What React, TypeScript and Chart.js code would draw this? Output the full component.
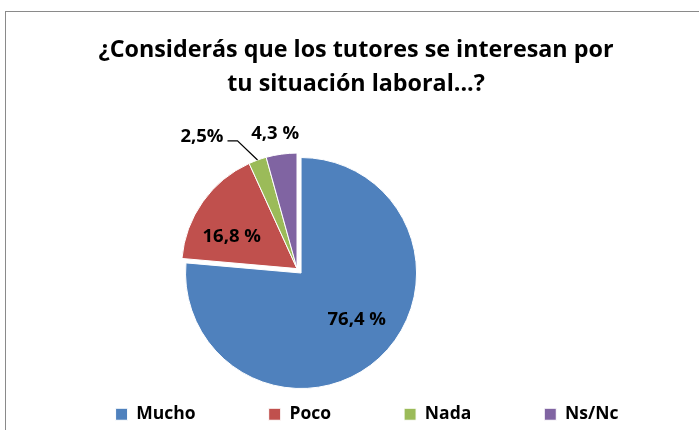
import { useEffect, useRef } from 'react';
import { Chart, registerables } from 'chart.js';

Chart.register(...registerables);

// ---- data ----
const categories = ['Mucho', 'Poco', 'Nada', 'Ns/Nc'];
const percentages = [76.4, 16.8, 2.5, 4.3];
const valueLabels = ['76,4 %', '16,8 %', '2,5%', '4,3 %'];
const titleLines = ['¿Considerás que los tutores se interesan por', 'tu situación laboral...?'];

// ---- style ----
const sliceColors = ['#4F81BD', '#C0504D', '#9BBB59', '#8064A2'];
const explode = [6, 0, 0, 0];
const labelPlacement = [
  { mode: 'inside', r: 0.63, shift: -7.5 },
  { mode: 'inside', r: 0.63, shift: -9 },
  { mode: 'leader', r: 1.22, shift: -5 },
  { mode: 'outside', r: 1.18, shift: -1.5 },
];
const FONT = "'Open Sans'";
const PIE_CX = 297;
const PIE_CY = 268.6;
const PIE_R = 115.5;
const LEGEND_SHIFT = 11;
const LABEL_SIZE = 18.5;
const TITLE_SIZE = 23.3;

const customPlugin = {
  id: 'customPie',
  afterLayout(chart: any) {
    const h = 140;
    chart.chartArea = {
      left: PIE_CX - h,
      right: PIE_CX + h,
      top: PIE_CY - h,
      bottom: PIE_CY + h,
      width: 2 * h,
      height: 2 * h,
    };
    if (chart.legend) {
      chart.legend.left += LEGEND_SHIFT;
      chart.legend.right += LEGEND_SHIFT;
    }
  },
  afterDatasetsUpdate(chart: any) {
    const meta = chart.getDatasetMeta(0);
    meta.data.forEach((arc: any, i: number) => {
      const d = explode[i] || 0;
      if (!d) return;
      const mid = (arc.startAngle + arc.endAngle) / 2;
      arc.x += Math.cos(mid) * d;
      arc.y += Math.sin(mid) * d;
    });
  },
  afterDatasetsDraw(chart: any) {
    const ctx = chart.ctx;
    const meta = chart.getDatasetMeta(0);
    ctx.save();
    ctx.font = `bold ${LABEL_SIZE}px ${FONT}`;
    ctx.fillStyle = '#000';
    ctx.strokeStyle = '#000';
    ctx.lineWidth = 1.2;
    meta.data.forEach((arc: any, i: number) => {
      const { x, y, startAngle, endAngle, outerRadius } = arc.getProps(
        ['x', 'y', 'startAngle', 'endAngle', 'outerRadius'],
        true
      );
      const p = labelPlacement[i];
      const mid = (startAngle + endAngle) / 2;
      const a = mid + (p.shift * Math.PI) / 180;
      const text = valueLabels[i];
      if (p.mode === 'leader') {
        const sx = x + Math.cos(mid) * outerRadius;
        const sy = y + Math.sin(mid) * outerRadius;
        const ex = x + Math.cos(a) * outerRadius * p.r;
        const ey = y + Math.sin(a) * outerRadius * p.r;
        const hx = ex - 10;
        ctx.beginPath();
        ctx.moveTo(sx, sy);
        ctx.lineTo(ex, ey);
        ctx.lineTo(hx, ey);
        ctx.stroke();
        ctx.textAlign = 'right';
        ctx.textBaseline = 'alphabetic';
        ctx.fillText(text, hx - 4, ey + 1);
      } else {
        ctx.textAlign = 'center';
        ctx.textBaseline = 'middle';
        ctx.fillText(
          text,
          x + Math.cos(a) * outerRadius * p.r,
          y + Math.sin(a) * outerRadius * p.r
        );
      }
    });
    ctx.restore();
  },
};

export default function App() {
  const canvasRef = useRef<HTMLCanvasElement | null>(null);

  useEffect(() => {
    if (!canvasRef.current) return;
    Chart.defaults.font.family = FONT;
    const chart = new Chart(canvasRef.current, {
      type: 'pie',
      data: {
        labels: categories,
        datasets: [
          {
            data: percentages,
            backgroundColor: sliceColors,
            borderColor: '#ffffff',
            borderWidth: 1,
            clip: false,
          } as any,
        ],
      },
      options: {
        animation: false,
        responsive: false,
        devicePixelRatio: 1,
        radius: PIE_R,
        layout: { padding: { left: 13, right: 0, top: 0, bottom: 0 } },
        plugins: {
          title: {
            display: true,
            text: titleLines,
            color: '#000',
            font: { family: FONT, weight: 'bold', size: TITLE_SIZE, lineHeight: 34 / TITLE_SIZE },
            padding: { top: 33, bottom: 0 },
          },
          legend: {
            display: true,
            position: 'bottom',
            labels: {
              boxWidth: 12,
              boxHeight: 12,
              padding: 73,
              color: '#000',
              font: { family: FONT, weight: 'bold', size: 17.5 },
            },
          },
          tooltip: { enabled: false },
        },
      } as any,
      plugins: [customPlugin],
    });
    return () => chart.destroy();
  }, []);

  return (
    <div
      style={{
        position: 'fixed',
        left: 0,
        top: 0,
        width: 699,
        height: 430,
        overflow: 'hidden',
        background: '#fff',
      }}
    >
      <div
        style={{
          position: 'absolute',
          left: 5,
          top: 11,
          width: 760,
          height: 480,
          border: '1px solid #8a8a8a',
        }}
      />
      <canvas
        ref={canvasRef}
        width={699}
        height={433}
        style={{ position: 'absolute', left: 0, top: 0, width: 699, height: 433 }}
      />
    </div>
  );
}
